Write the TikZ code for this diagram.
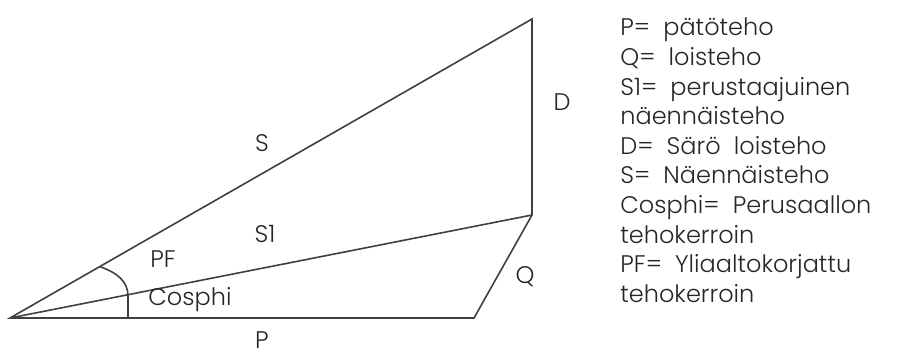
\documentclass[tikz,border=0pt]{standalone}
\usepackage{fontspec}
\setmainfont{Poppins}[UprightFont={* Light}]
\usepackage{tikz}
\usetikzlibrary{calc}

\begin{document}
\begin{tikzpicture}[
    x=0.5pt, y=0.5pt,
    side/.style={draw=black!75, line width=0.8pt},
    lbl/.style={font=\fontsize{12}{14}\selectfont, text=black!85, inner sep=0pt},
    legend/.style={lbl, anchor=base west}
]
\useasboundingbox (0,0) rectangle (899,354);

% Corners of the power triangle
\coordinate (O) at (10,36);
\coordinate (Pend) at (474,36);
\coordinate (S1end) at (532,139);
\coordinate (Send) at (532,335);

% Sides
\draw[side] (O) -- (Pend) -- (S1end) -- (Send) -- cycle;
\draw[side] (O) -- (S1end);

% Angle mark
\coordinate (arcS) at ($(O)!0.172!(Send)$);
\coordinate (arcP) at (128,36);
\draw[side] (arcS) .. controls (118,81) and (128,72) .. (128,58) -- (arcP);

% Side labels
\node[lbl] (labS) at (262,211) {S};
\node[lbl] (labS1) at (265,120) {S1};
\node[lbl] (labPF) at (163,95) {PF};
\node[lbl] (labCos) at (190,54) {Cosphi};
\node[lbl] (labP) at (262,14) {P};
\node[lbl] (labQ) at (525,77) {Q};
\node[lbl] (labD) at (562,252) {D};

% Legend
\foreach \t [count=\i from 0] in {P= \ pätöteho, Q= \ loisteho, S1= \ perustaajuinen, näennäisteho, D= \ Särö \ loisteho, S= \ Näennäisteho, Cosphi= \ Perusaallon, tehokerroin, PF= \ Yliaaltokorjattu, tehokerroin}
  \node[legend] (leg\i) at (620,318-29.6*\i) {\t};

\end{tikzpicture}
\end{document}
